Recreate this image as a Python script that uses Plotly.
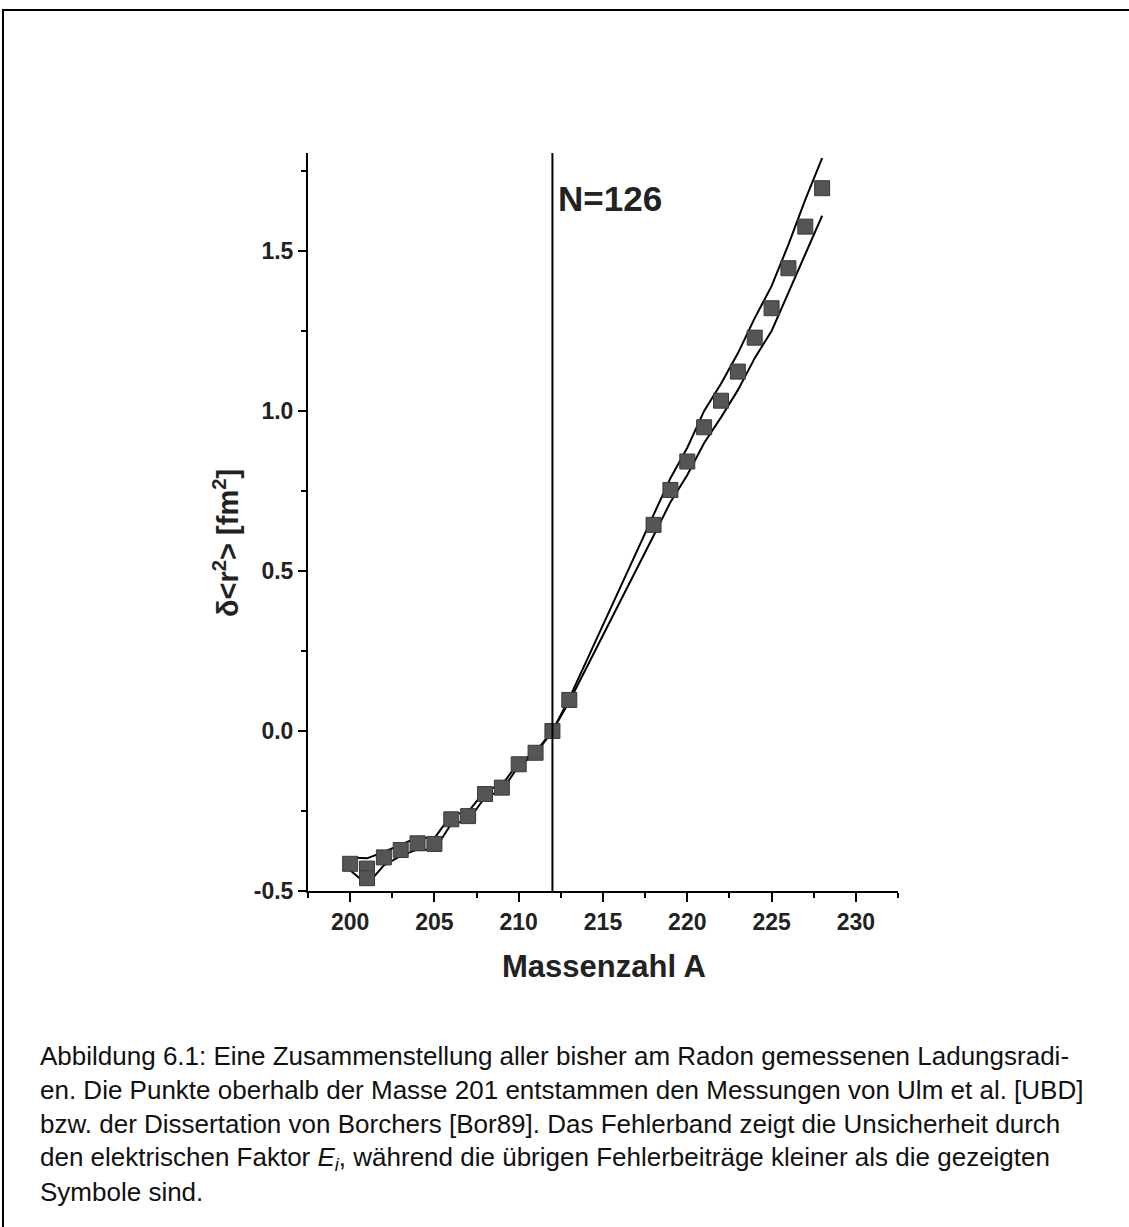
import plotly.graph_objects as go

# ---- data ----
mass_a = [200, 201, 201, 202, 203, 204, 205, 206, 207, 208, 209, 210, 211, 212,
          213, 218, 219, 220, 221, 222, 223, 224, 225, 226, 227, 228]
delta_r2 = [-0.415, -0.43, -0.46, -0.395, -0.372, -0.351, -0.353, -0.276, -0.266,
            -0.197, -0.177, -0.104, -0.068, 0.0,
            0.097, 0.644, 0.753, 0.842, 0.949, 1.032, 1.123, 1.229, 1.321,
            1.446, 1.576, 1.696]

band_a = [200, 201, 202, 203, 204, 205, 206, 207, 208, 209, 210, 211, 212,
          213, 218, 219, 220, 221, 222, 223, 224, 225, 226, 227, 228]
band_upper = [-0.395, -0.398, -0.378, -0.355, -0.333, -0.335, -0.262, -0.253,
              -0.187, -0.168, -0.099, -0.065, 0.0,
              0.102, 0.675, 0.79, 0.885, 1.0, 1.085, 1.18, 1.29, 1.39, 1.52,
              1.66, 1.79]
band_lower = [-0.435, -0.48, -0.42, -0.39, -0.37, -0.372, -0.29, -0.28,
              -0.207, -0.186, -0.109, -0.071, 0.0,
              0.092, 0.61, 0.715, 0.80, 0.90, 0.98, 1.065, 1.165, 1.25, 1.37,
              1.49, 1.61]

shell_closure_a = 212
shell_label = "N=126"

x_ticks = [200, 205, 210, 215, 220, 225, 230]
y_ticks = [-0.5, 0.0, 0.5, 1.0, 1.5]
y_tick_text = ["-0.5", "0.0", "0.5", "1.0", "1.5"]

caption_lines = [
    "Abbildung 6.1: Eine Zusammenstellung aller bisher am Radon gemessenen Ladungsradi-",
    "en. Die Punkte oberhalb der Masse 201 entstammen den Messungen von Ulm et al. [UBD]",
    "bzw. der Dissertation von Borchers [Bor89]. Das Fehlerband zeigt die Unsicherheit durch",
    "den elektrischen Faktor <i>E<sub>i</sub></i>, während die übrigen Fehlerbeiträge kleiner als die gezeigten",
    "Symbole sind.",
]

W, H = 1129, 1227
L, R, T, B = 308, 1129 - 898, 153, 1227 - 891
PW, PH = W - L - R, H - T - B


def px_x(p):
    return (p - L) / PW


def px_y(p):
    return (H - B - p) / PH


fig = go.Figure()

fig.add_trace(go.Scatter(x=band_a, y=band_upper, mode="lines",
                         line=dict(color="black", width=2), showlegend=False))
fig.add_trace(go.Scatter(x=band_a, y=band_lower, mode="lines",
                         line=dict(color="black", width=2), showlegend=False))
fig.add_trace(go.Scatter(x=mass_a, y=delta_r2, mode="markers",
                         marker=dict(symbol="square", size=15, color="#555555",
                                     line=dict(color="#3a3a3a", width=1)),
                         showlegend=False))

fig.add_shape(type="line", xref="x", yref="paper", x0=shell_closure_a, x1=shell_closure_a,
              y0=0, y1=1, line=dict(color="black", width=2))

fig.add_annotation(xref="paper", yref="paper", x=px_x(556), y=px_y(198),
                   text="<b>" + shell_label + "</b>",
                   showarrow=False, xanchor="left", yanchor="middle",
                   font=dict(family="Liberation Sans, Arial", size=35, color="#222"))

# outer page frame
fig.add_shape(type="rect", xref="paper", yref="paper",
              x0=px_x(3), x1=px_x(1140), y0=px_y(1240), y1=px_y(10),
              line=dict(color="black", width=2))

# axis titles
fig.add_annotation(xref="paper", yref="paper", x=px_x(604), y=px_y(966),
                   text="<b>Massenzahl A</b>", showarrow=False,
                   xanchor="center", yanchor="middle",
                   font=dict(family="Liberation Sans, Arial", size=31, color="#222"))
fig.add_annotation(xref="paper", yref="paper", x=px_x(226), y=px_y(543),
                   text="<b>δ&lt;r<sup>2</sup>&gt; [fm<sup>2</sup>]</b>", showarrow=False,
                   textangle=-90, xanchor="center", yanchor="middle",
                   font=dict(family="Liberation Sans, Arial", size=29, color="#222"))

# caption
for i, line in enumerate(caption_lines):
    ypix = 1056 + i * 34
    fig.add_annotation(xref="paper", yref="paper", x=px_x(38), y=px_y(ypix),
                       text=line, showarrow=False, xanchor="left", yanchor="middle",
                       font=dict(family="Liberation Sans, Arial", size=26, color="#111"))

fig.update_xaxes(range=[197.5, 232.5], tickvals=x_ticks,
                 ticktext=["<b>%d</b>" % v for v in x_ticks],
                 ticks="outside", ticklen=9, tickwidth=2, tickcolor="black",
                 showline=True, linecolor="black", linewidth=2, showgrid=False,
                 zeroline=False, mirror=False,
                 tickfont=dict(family="Liberation Sans, Arial", size=23, color="#222"),
                 minor=dict(ticks="outside", ticklen=5, tickwidth=2, tickcolor="black",
                            tick0=197.5, dtick=5, showgrid=False))
fig.update_yaxes(range=[-0.5, 1.806], tickvals=y_ticks,
                 ticktext=["<b>%s</b>" % t for t in y_tick_text],
                 ticks="outside", ticklen=8, tickwidth=2, tickcolor="black",
                 showline=True, linecolor="black", linewidth=2, showgrid=False,
                 zeroline=False, mirror=False,
                 tickfont=dict(family="Liberation Sans, Arial", size=23, color="#222"),
                 minor=dict(ticks="outside", ticklen=5, tickwidth=2, tickcolor="black",
                            tick0=-0.25, dtick=0.5, showgrid=False))

fig.update_layout(width=W, height=H, margin=dict(l=L, r=R, t=T, b=B, autoexpand=False),
                  plot_bgcolor="white", paper_bgcolor="white", showlegend=False)

fig.write_html("out.html")
